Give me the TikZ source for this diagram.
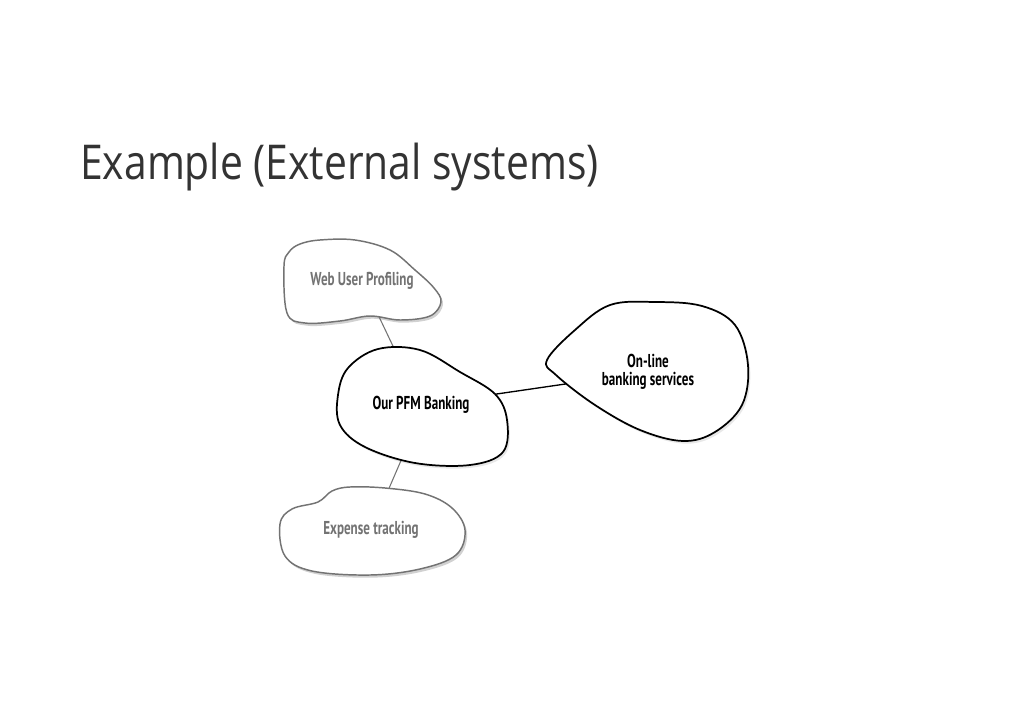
\documentclass[tikz,border=0pt]{standalone}
\usepackage{fontspec}
\setmainfont{Open Sans}
\newfontfamily\titlefont[FakeStretch=0.85]{Open Sans}
\newfontfamily\blobfont[FakeStretch=0.7]{PT Sans}
\usetikzlibrary{shadows}
\pgfdeclarelayer{bg}
\pgfdeclarelayer{fg}
\pgfsetlayers{bg,main,fg}
\tikzset{
  greyblob/.style={draw=black!55, line width=1.1pt, fill=white,
    drop shadow={shadow xshift=1.5pt, shadow yshift=-2pt, opacity=0.3, fill=black!60}},
  blackblob/.style={draw=black, line width=1.3pt, fill=white,
    drop shadow={shadow xshift=1.5pt, shadow yshift=-2pt, opacity=0.15, fill=black!60}},
  greylabel/.style={font=\blobfont\bfseries\fontsize{14}{15}\selectfont, text=black!55, align=center, inner sep=0pt},
  blacklabel/.style={font=\blobfont\bfseries\fontsize{14}{13.5}\selectfont, text=black, align=center, inner sep=0pt},
  greylink/.style={draw=black!55, line width=0.8pt},
  blacklink/.style={draw=black, line width=1pt},
}
\begin{document}
\begin{tikzpicture}[x=0.75pt, y=-0.75pt]
\useasboundingbox (0,0) rectangle (1024,724);
\node[anchor=base west, inner sep=0pt, font=\titlefont\fontsize{36}{40}\selectfont, text=black!80] (title) at (80,179) {Example (External systems)};

\begin{pgfonlayer}{fg}
\node[greylabel] (web) at (362,281) {Web User Profiling};
\node[blacklabel] (pfm) at (421,405) {Our PFM Banking};
\node[blacklabel] (online) at (648,372) {On-line\\banking services};
\node[greylabel] (exp) at (371,530) {Expense tracking};
\end{pgfonlayer}

\begin{pgfonlayer}{bg}
\draw[greylink] (web) -- (pfm);
\draw[blacklink] (pfm) -- (online);
\draw[greylink] ([xshift=3pt]pfm.center) -- (exp);
\end{pgfonlayer}

% Web User Profiling
\draw[greyblob] plot[smooth cycle, tension=0.6] coordinates {
  (284,266) (289,252) (300,244) (320,240) (355,240) (390,250) (415,270) (434,288) (441,302)
  (430,316) (400,320) (370,316) (340,321) (305,323) (287,313)};
% Our PFM Banking
\draw[blackblob] plot[smooth cycle, tension=0.6] coordinates {
  (338,395) (348,368) (378,349) (420,350) (460,372) (495,394) (507,420)
  (503,452) (470,465) (415,463) (365,447) (340,425)};
% On-line banking services
\draw[blackblob] plot[smooth cycle, tension=0.6] coordinates {
  (547,360) (575,330) (610,305) (655,302) (702,306) (735,325) (748,365)
  (742,405) (715,432) (683,441) (640,430) (595,405) (556,375)};
% Expense tracking
\draw[greyblob] plot[smooth cycle, tension=0.6] coordinates {
  (280,524) (292,509) (318,502) (332,491) (350,487) (385,488) (425,494)
  (452,508) (465,530) (456,555) (420,569) (370,575) (312,571) (285,556)};
\end{tikzpicture}
\end{document}
